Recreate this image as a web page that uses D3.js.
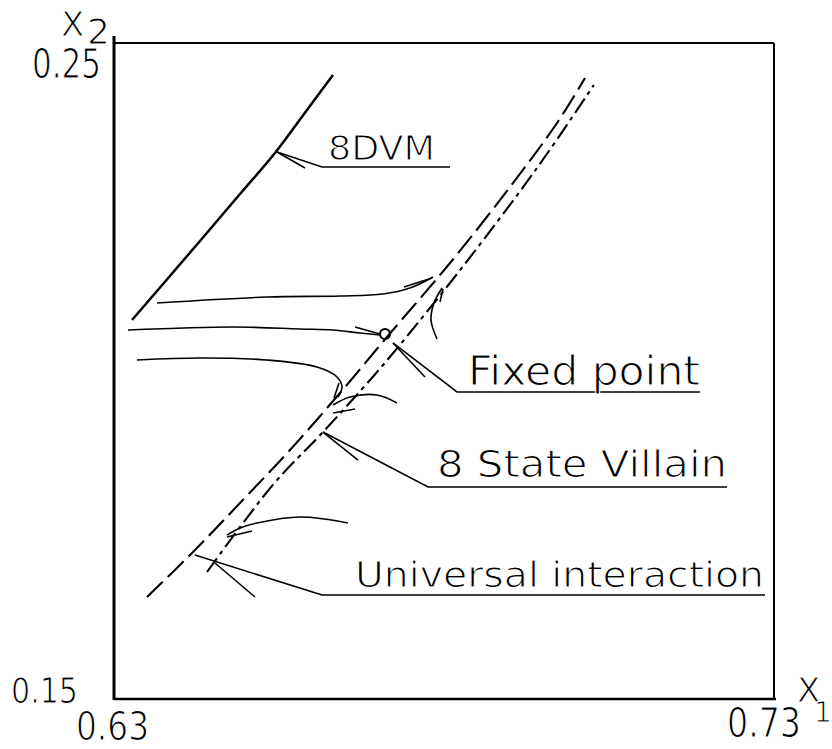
<!DOCTYPE html>
<html>
<head>
<meta charset="utf-8">
<script src="https://cdn.jsdelivr.net/npm/d3@7/dist/d3.min.js"></script>
<style>
  html, body { margin: 0; padding: 0; background: #fff; }
  /* light lettering: thin the glyphs with a white outline drawn over the fill */
  svg text {
    font-family: "DejaVu Sans", "Liberation Sans", sans-serif;
    fill: #000; stroke: #fff; stroke-width: 1.1px; paint-order: fill stroke;
  }
</style>
</head>
<body>
<svg id="chart" width="832" height="749"></svg>
<script>
// Axis ranges of the (X1, X2) coupling plane
const x1Domain = [0.63, 0.73];
const x2Domain = [0.15, 0.25];
const x1TickLabels = ["0.63", "0.73"];
const x2TickLabels = ["0.15", "0.25"];

// 8DVM critical line
const dvmLine = [
  [0.63273, 0.20777], [0.64303, 0.21982], [0.64909, 0.22698],
  [0.65439, 0.23323], [0.65924, 0.23979], [0.66318, 0.24512]
];

// Universal interaction line (long dashes)
const universalLine = [
  [0.63500, 0.16555], [0.64227, 0.17271], [0.64909, 0.17988],
  [0.65667, 0.18796], [0.66424, 0.19665], [0.67136, 0.20518],
  [0.68091, 0.21646], [0.69000, 0.22805], [0.69712, 0.23780],
  [0.70136, 0.24466]
];

// 8 State Villain line (dash-dot)
const villainLine = [
  [0.64409, 0.16936], [0.64909, 0.17622], [0.65470, 0.18338],
  [0.66167, 0.19070], [0.66920, 0.19909], [0.67330, 0.20396],
  [0.68280, 0.21585], [0.69420, 0.23110], [0.70270, 0.24360]
];

// Renormalization-group flow trajectories
const flowA = [[0.63652, 0.21037], [0.65318, 0.21128], [0.66424, 0.21143],
               [0.67076, 0.21174], [0.67485, 0.21265], [0.67833, 0.21433]];
const flowB = [[0.63212, 0.20625], [0.64803, 0.20671], [0.65818, 0.20640],
               [0.66318, 0.20625], [0.66727, 0.20579], [0.67030, 0.20549]];
const flowC = [[0.63348, 0.20168], [0.64303, 0.20198], [0.65318, 0.20168],
               [0.66076, 0.20061], [0.66379, 0.19909], [0.66455, 0.19756],
               [0.66394, 0.19604]];
const flowD = [[0.67894, 0.20488], [0.67803, 0.20777], [0.67848, 0.21037],
               [0.67970, 0.21265]];
const flowE = [[0.67288, 0.19512], [0.66985, 0.19634], [0.66576, 0.19604],
               [0.66318, 0.19482]];
const flowF = [[0.66545, 0.17683], [0.65818, 0.17774], [0.65167, 0.17683],
               [0.64909, 0.17607], [0.64712, 0.17500]];
const flows = [flowA, flowB, flowC, flowD, flowE, flowF];

// Half-arrowheads at the ends of the trajectories
const arrowHeads = [
  [[0.67394, 0.21280], [0.67818, 0.21418]],
  [[0.66652, 0.20671], [0.67030, 0.20564]],
  [[0.66409, 0.19817], [0.66333, 0.19588]],
  [[0.67939, 0.21052], [0.67985, 0.21250]],
  [[0.66652, 0.19421], [0.66318, 0.19360]],
  [[0.65091, 0.17561], [0.64712, 0.17470]]
];

// Fixed point
const fixedPoint = [0.67106, 0.20564];

// Labels with leader lines: tip, bend, end of underline, short second stroke
const labelNames = ["8DVM", "Fixed point", "8 State Villain", "Universal interaction"];
const labelTips = [[0.65470, 0.23338], [0.67227, 0.20427], [0.66167, 0.19070], [0.64227, 0.17195]];
const labelBends = [[0.66152, 0.23110], [0.68197, 0.19680], [0.67758, 0.18232], [0.66152, 0.16585]];
const labelEnds = [[0.68091, 0.23110], [0.71879, 0.19680], [0.72288, 0.18232], [0.72864, 0.16585]];
const labelStrokes = [
  [[0.65470, 0.23338], [0.65894, 0.23095]],
  [[0.67227, 0.20427], [0.67712, 0.19909]],
  [[0.66167, 0.19070], [0.66697, 0.18643]],
  [[0.64530, 0.17073], [0.65136, 0.16555]]
];
const labelStartX1 = [0.66242, 0.68364, 0.67894, 0.66652];

// ---- drawing ----
const svg = d3.select("#chart");
const x = d3.scaleLinear().domain(x1Domain).range([114, 774]);
const y = d3.scaleLinear().domain(x2Domain).range([699, 43]);

const line = d3.line().x(d => x(d[0])).y(d => y(d[1])).curve(d3.curveCatmullRom.alpha(0.5));
const straight = d3.line().x(d => x(d[0])).y(d => y(d[1]));

// Frame
const frame = svg.append("g").attr("stroke", "#000").attr("fill", "none");
frame.append("line").attr("x1", x(x1Domain[0])).attr("x2", x(x1Domain[0]))
  .attr("y1", y(x2Domain[1]) - 7).attr("y2", y(x2Domain[0]) + 1).attr("stroke-width", 3);
frame.append("line").attr("x1", x(x1Domain[0])).attr("x2", x(x1Domain[1]))
  .attr("y1", y(x2Domain[1])).attr("y2", y(x2Domain[1])).attr("stroke-width", 2);
frame.append("line").attr("x1", x(x1Domain[1])).attr("x2", x(x1Domain[1]))
  .attr("y1", y(x2Domain[1])).attr("y2", y(x2Domain[0])).attr("stroke-width", 2);
frame.append("line").attr("x1", x(x1Domain[0])).attr("x2", x(x1Domain[1]) + 2)
  .attr("y1", y(x2Domain[0])).attr("y2", y(x2Domain[0])).attr("stroke-width", 2.5);

// Tick labels
const ticks = svg.append("g");
ticks.append("text").text(x2TickLabels[1])
  .attr("x", x(x1Domain[0]) - 82).attr("y", y(x2Domain[1]) + 35)
  .attr("font-size", 40).attr("textLength", 69).attr("lengthAdjust", "spacingAndGlyphs");
ticks.append("text").text(x2TickLabels[0])
  .attr("x", x(x1Domain[0]) - 103).attr("y", y(x2Domain[0]) + 4)
  .attr("font-size", 35).attr("textLength", 67).attr("lengthAdjust", "spacingAndGlyphs");
ticks.append("text").text(x1TickLabels[0])
  .attr("x", x(x1Domain[0]) - 38).attr("y", y(x2Domain[0]) + 41)
  .attr("font-size", 39).attr("textLength", 73).attr("lengthAdjust", "spacingAndGlyphs");
ticks.append("text").text(x1TickLabels[1])
  .attr("x", x(x1Domain[1]) - 47).attr("y", y(x2Domain[0]) + 38)
  .attr("font-size", 40).attr("textLength", 74).attr("lengthAdjust", "spacingAndGlyphs");

// Axis titles X2 and X1 (base letter plus subscript in one text)
const t2 = ticks.append("text").attr("font-size", 34);
t2.append("tspan").attr("x", 61).attr("y", 36).text("X");
t2.append("tspan").attr("x", 87).attr("y", 44).attr("font-size", 36).text("2");
const t1 = ticks.append("text").attr("font-size", 34);
t1.append("tspan").attr("x", 797).attr("y", 702).text("X");
t1.append("tspan").attr("x", 814).attr("y", 722).attr("font-size", 28).text("1");

// 8DVM line
svg.append("path").attr("d", line(dvmLine))
  .attr("fill", "none").attr("stroke", "#000").attr("stroke-width", 2.5);

// Universal interaction (long dash) and 8 State Villain (dash-dot)
svg.append("path").attr("d", line(universalLine))
  .attr("fill", "none").attr("stroke", "#000").attr("stroke-width", 2.1)
  .attr("stroke-dasharray", "22,7");
svg.append("path").attr("d", line(villainLine))
  .attr("fill", "none").attr("stroke", "#000").attr("stroke-width", 2.1)
  .attr("stroke-dasharray", "17,5,4,5");

// Flow trajectories
svg.append("g").selectAll("path").data(flows).join("path")
  .attr("d", d => line(d))
  .attr("fill", "none").attr("stroke", "#000").attr("stroke-width", 1.6);
svg.append("g").selectAll("path").data(arrowHeads).join("path")
  .attr("d", d => straight(d))
  .attr("fill", "none").attr("stroke", "#000").attr("stroke-width", 1.6);

// Fixed point marker
svg.append("circle").attr("cx", x(fixedPoint[0])).attr("cy", y(fixedPoint[1])).attr("r", 5)
  .attr("fill", "none").attr("stroke", "#000").attr("stroke-width", 2.2);

// Leaders and labels
const labelOffsets = [7, 7, 10, 8];
const labelSizes = [34, 41, 38, 35];
const labelLengths = [107, 232, 290, 409];
labelNames.forEach((name, i) => {
  svg.append("path")
    .attr("d", straight([labelTips[i], labelBends[i], labelEnds[i]]))
    .attr("fill", "none").attr("stroke", "#000").attr("stroke-width", 1.6);
  svg.append("path")
    .attr("d", straight(labelStrokes[i]))
    .attr("fill", "none").attr("stroke", "#000").attr("stroke-width", 1.6);
  svg.append("text").text(name)
    .attr("x", x(labelStartX1[i]))
    .attr("y", y(labelEnds[i][1]) - labelOffsets[i])
    .attr("font-size", labelSizes[i])
    .attr("textLength", labelLengths[i]).attr("lengthAdjust", "spacingAndGlyphs");
});
</script>
</body>
</html>
